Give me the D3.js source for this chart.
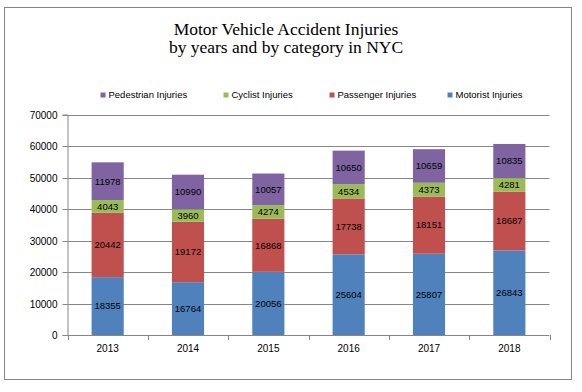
<!DOCTYPE html>
<html><head><meta charset="utf-8">
<script src="https://cdn.jsdelivr.net/npm/d3@7"></script>
<style>body{margin:0;background:#fff}svg{display:block}</style>
</head><body>
<script>
const years = ["2013","2014","2015","2016","2017","2018"];
const seriesNames = ["Motorist Injuries","Passenger Injuries","Cyclist Injuries","Pedestrian Injuries"];
const motorist = [18355,16764,20056,25604,25807,26843];
const passenger = [20442,19172,16868,17738,18151,18687];
const cyclist = [4043,3960,4274,4534,4373,4281];
const pedestrian = [11978,10990,10057,10650,10659,10835];
const yTicks = [0,10000,20000,30000,40000,50000,60000,70000];
const colors = ["#4F81BD","#C0504D","#9BBB59","#8064A2"];
const legendOrder = [3,2,1,0];

const W=582,H=392;
const svg=d3.select("body").append("svg").attr("width",W).attr("height",H);
const font="'Liberation Sans', Arial, sans-serif";

svg.append("rect").attr("x",4.5).attr("y",7.5).attr("width",567).attr("height",372)
  .attr("fill","#fff").attr("stroke","#868686").attr("stroke-width",1);

const title=svg.append("text").attr("text-anchor","middle").attr("font-family","'Liberation Serif', 'Times New Roman', serif")
  .attr("font-size",17.5).attr("fill","#000");
title.append("tspan").attr("x",286).attr("y",35).text("Motor Vehicle Accident Injuries");
title.append("tspan").attr("x",286).attr("y",53).text("by years and by category in NYC");

const x=d3.scaleBand().domain(years).range([67.5,549.5]).paddingInner(0.6).paddingOuter(0.3);
const y=d3.scaleLinear().domain([0,70000]).range([335,114.5]);

const data=years.map((yr,i)=>({year:yr,v:[motorist[i],passenger[i],cyclist[i],pedestrian[i]]}));
const stack=d3.stack().keys([0,1,2,3]).value((d,k)=>d.v[k]);
const layers=stack(data);

const yAxis=d3.axisLeft(y).tickValues(yTicks).tickSize(5).tickFormat(d3.format("d"));
const gy=svg.append("g").attr("transform","translate(67.5,0)").call(yAxis);
gy.select(".domain").attr("stroke","#868686");
gy.selectAll(".tick line").attr("stroke","#868686");
gy.selectAll(".tick text").attr("font-family",font).attr("font-size",10).attr("fill","#000").attr("x",-10);
svg.append("g").selectAll("line").data(yTicks.filter(d=>d>0)).join("line")
  .attr("x1",67.5).attr("x2",549.5).attr("y1",d=>Math.round(y(d))+0.5).attr("y2",d=>Math.round(y(d))+0.5)
  .attr("stroke","#868686");
gy.selectAll(".tick").attr("transform",d=>`translate(0,${Math.round(y(d))+0.5})`);

const g=svg.append("g");
layers.forEach((layer,k)=>{
  g.selectAll(null).data(layer).join("rect")
    .attr("x",d=>x(d.data.year)).attr("width",x.bandwidth())
    .attr("y",d=>y(d[1])).attr("height",d=>y(d[0])-y(d[1]))
    .attr("fill",colors[k]);
});
layers.forEach((layer,k)=>{
  g.selectAll(null).data(layer).join("text")
    .attr("x",d=>x(d.data.year)+x.bandwidth()/2).attr("y",d=>(y(d[0])+y(d[1]))/2)
    .attr("dy","0.35em").attr("text-anchor","middle")
    .attr("font-family",font).attr("font-size",9.5).attr("fill","#000")
    .text(d=>d.data.v[k]);
});

const step=(549.5-67.5)/years.length;
svg.append("line").attr("x1",67.5).attr("x2",549.5).attr("y1",335.5).attr("y2",335.5).attr("stroke","#868686");
svg.append("g").selectAll("line").data(d3.range(years.length+1)).join("line")
  .attr("x1",i=>Math.round(67.5+i*step)+0.5).attr("x2",i=>Math.round(67.5+i*step)+0.5)
  .attr("y1",335).attr("y2",340).attr("stroke","#868686");
svg.append("g").selectAll("text").data(years).join("text")
  .attr("x",d=>x(d)+x.bandwidth()/2).attr("y",352).attr("text-anchor","middle")
  .attr("font-family",font).attr("font-size",10).attr("fill","#000").text(d=>d);

const legX=[100.5,223.5,329.5,447.5];
const leg=svg.append("g").selectAll("g").data(legendOrder).join("g")
  .attr("transform",(k,i)=>`translate(${legX[i]},92.5)`);
leg.append("rect").attr("width",5).attr("height",5).attr("fill",k=>colors[k]);
leg.append("text").attr("x",8).attr("y",2.5).attr("dy","0.35em")
  .attr("font-family",font).attr("font-size",9.5).attr("fill","#000").text(k=>seriesNames[k]);
</script>
</body></html>
